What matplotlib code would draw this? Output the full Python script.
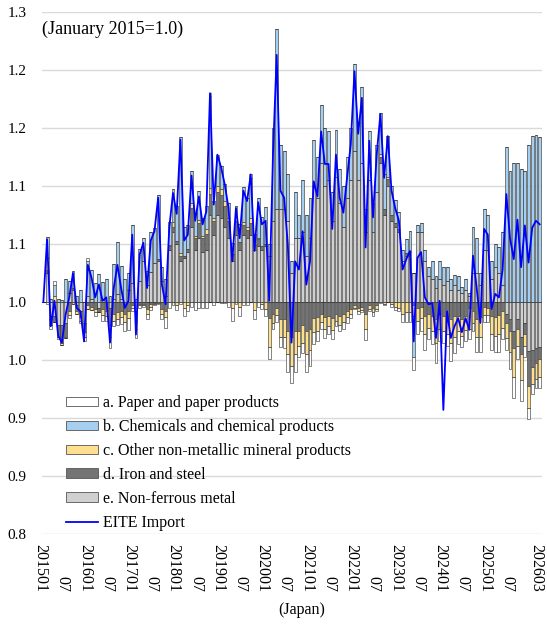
import matplotlib
matplotlib.use("Agg")
import matplotlib.pyplot as plt
import matplotlib.transforms as mtransforms
from matplotlib.patches import Patch
from matplotlib.lines import Line2D
import numpy as np

plt.rcParams['font.family'] = ['Liberation Serif', 'DejaVu Serif']

# ---- data (contributions in index points x 0.01) ----
eite = [1.000, 1.054, 0.979, 1.001, 0.971, 0.965, 0.989, 1.004, 1.025, 0.995, 0.992, 0.966,
        1.032, 1.021, 1.004, 1.015, 1.001, 1.004, 0.965, 1.012, 1.032, 1.012, 0.995, 1.001,
        1.058, 0.972, 1.041, 1.051, 1.012, 1.053, 1.061, 1.090, 1.015, 0.998, 1.064, 1.094,
        1.076, 1.140, 1.053, 1.058, 1.109, 1.070, 1.091, 1.067, 1.078, 1.180, 1.084, 1.127,
        1.116, 1.101, 1.081, 1.035, 1.081, 1.055, 1.096, 1.087, 1.110, 1.044, 1.086, 1.067,
        1.070, 1.001, 1.127, 1.213, 1.096, 1.090, 1.050, 0.965, 1.035, 1.028, 1.061, 1.015,
        1.035, 1.104, 1.091, 1.147, 1.119, 1.119, 1.063, 1.127, 1.090, 1.077, 1.107, 1.136,
        1.199, 1.145, 1.176, 1.047, 1.139, 1.073, 1.127, 1.162, 1.107, 1.143, 1.096, 1.081,
        1.070, 1.028, 1.037, 1.044, 0.966, 1.038, 1.043, 1.004, 0.998, 0.999, 0.969, 1.001,
        0.907, 0.992, 0.969, 0.979, 0.986, 0.974, 0.986, 0.976, 1.040, 1.012, 0.982, 1.063,
        1.058, 0.994, 1.007, 1.004, 1.028, 1.093, 1.055, 1.037, 1.071, 1.030, 1.066, 1.034,
        1.064, 1.070, 1.067]

e_nonferrous = [0, 2.5, -1.5, -1.2, -2.0, -2.0, -1.8, 0.8, 1.0, -0.3, -0.8, -1.8,
                0.5, 0.3, 0, -0.5, 0.2, 0, -0.5, 0.3, 0.7, 0.3, 0, 1.0,
                1.6, -0.8, 1.8, 3.5, 1.5, 2.6, 3.4, 3.5, 1.8, 0.5, 4.5, 6.0,
                5.0, 3.5, 3.8, 4.3, 6.5, 4.5, 5.5, 4.3, 4.5, 7.5, 5.8, 7.5,
                7.2, 6.5, 5.5, 3.5, 5.8, 4.5, 5.8, 5.5, 5.8, 4.5, 4.8, 4.5,
                4.8, 4.0, 7.0, 8.0, 8.0, 8.0, 7.0, 2.5, 5.5, 5.5, 6.0, 4.0,
                5.5, 10.0, 9.0, 12.0, 10.0, 10.5, 7.0, 10.8, 8.5, 6.5, 9.0, 10.5,
                13.0, 10.5, 12.0, 6.0, 10.5, 6.0, 9.5, 12.0, 7.5, 10.0, 7.0, 6.5,
                6.0, 3.5, 4.0, 4.3, 2.5, 6.0, 6.0, 3.5, 2.2, 2.0, 1.2, 2.0,
                1.5, 1.8, 1.0, 1.5, 1.0, 0.8, 1.0, 0.5, 2.5, 2.5, 1.5, 4.5,
                4.5, 2.0, 3.0, 2.5, 1.5, -1.0, -1.5, -2.5, -1.5, -3.0, -1.8, -4.2,
                -4.1, -4.0, -3.9]
d_iron_steel = [0, 0.3, -0.5, -0.5, -1.0, -1.5, -1.2, -0.8, 0.2, -0.5, -0.5, -0.8,
                -0.3, -0.4, -0.6, -0.4, -0.6, -0.8, -1.5, -1.0, -0.9, -0.8, -1.0, -0.8,
                -0.3, -1.0, -0.2, -0.2, -0.6, -0.2, -0.1, 0.2, -0.6, -0.8, 0.3, 0.5,
                0.3, 0.5, 0.2, 0.3, 1.6, 1.0, 1.3, 1.2, 1.4, 1.8, 1.2, 2.0,
                2.0, 1.8, 1.5, 0.6, 1.2, 0.7, 0.8, 0.7, 1.0, 0.4, 0.6, 0.3,
                0.2, -1.4, -1.0, -0.5, -1.5, -1.5, -2.5, -3.0, -2.5, -2.5, -2.0, -2.5,
                -2.3, -1.4, -1.3, -1.0, -1.3, -1.2, -1.4, -1.0, -1.2, -1.0, -0.8, -0.6,
                -0.3, -0.5, -0.4, -1.0, -0.3, -0.5, -0.3, 0.5, 0.5, 0.6, 0.5, 0.3,
                0.3, 0, 0.2, 0, -0.3, -0.5, -0.4, -1.2, -1.0, -1.2, -1.5, -1.0,
                -1.2, -1.3, -1.5, -1.2, -1.2, -1.5, -1.2, -0.5, -0.8, -1.5, -1.3, -0.4,
                -0.5, -1.2, -1.3, -1.1, -0.8, -0.8, -1.0, -1.5, -0.8, -1.5, -1.0, -3.0,
                -1.5, -1.3, -1.0]
c_nonmetallic = [0, 1.0, 0, 0.5, 0, -0.2, -0.1, -0.3, -0.2, -0.2, -0.3, -0.4,
                 -0.3, -0.3, -0.3, 0, -0.5, -0.4, -1.0, -0.6, -0.6, -0.5, -0.7, -0.6,
                 -0.2, -0.5, -0.1, -0.1, -0.4, -0.2, -0.1, -0.1, -0.4, -0.5, 0.1, 0.4,
                 -0.3, 0.2, -0.5, -0.3, 0.4, 0.2, 0.3, 0.2, 0.4, 0.5, 0.2, 0.5,
                 0.5, 0.4, 0.2, -0.5, 0.3, -0.4, 0.3, 0.3, 0.4, -0.7, 0.1, -0.2,
                 -0.6, -2.5, -0.8, -0.6, -1.5, -1.5, -2.0, -2.5, -2.0, -1.3, -1.5, -2.0,
                 -1.8, -1.2, -1.2, -0.7, -1.0, -0.9, -1.0, -0.6, -0.8, -0.7, -0.5, -0.4,
                 -0.2, -0.3, -0.3, -1.3, -0.3, -0.4, -0.3, 0.3, -0.2, 0.2, -0.2, -0.4,
                 -0.5, -1.0, -0.9, -0.9, -0.9, -1.1, -1.0, -1.6, -1.2, -1.3, -2.0, -1.3,
                 -1.3, -1.5, -2.0, -1.8, -1.3, -1.4, -1.2, -1.8, -1.0, -1.5, -1.7, -0.7,
                 -0.6, -1.6, -1.6, -1.7, -1.4, -1.3, -1.8, -2.5, -1.5, -2.2, -1.0, -1.9,
                 -1.5, -1.3, -1.6]
b_chemicals = [0, 1.8, 0.3, 1.0, 0.3, 0.2, 2.0, 1.0, 1.5, 0.5, 1.0, 0,
               3.0, 2.5, 1.6, 2.4, 1.5, 2.0, 0.5, 3.0, 4.5, 2.8, 2.0, 1.5,
               5.0, 0.3, 2.8, 2.0, 1.2, 3.4, 3.0, 5.5, 1.2, 1.5, 2.0, 2.8,
               3.0, 10.0, 2.5, 2.0, 2.8, 2.0, 2.5, 1.5, 2.0, 8.0, 1.5, 2.5,
               2.0, 1.5, 1.3, 1.0, 1.0, 1.5, 3.0, 2.5, 3.5, 1.0, 3.5, 2.5,
               3.2, 1.0, 8.0, 15.5, 5.5, 5.0, 4.0, 1.0, 4.0, 2.0, 4.5, 3.5,
               3.5, 4.0, 3.5, 5.0, 5.0, 4.2, 2.5, 4.0, 3.0, 3.5, 3.5, 4.5,
               7.5, 5.0, 6.5, 2.0, 4.2, 2.5, 4.0, 3.5, 3.0, 3.5, 2.5, 2.0,
               1.5, 1.0, 1.2, 1.8, -3.5, 0.6, 0.8, 1.0, 0.8, 1.5, 1.0, 1.5,
               1.5, 1.2, 1.0, 0.8, 1.2, 0.5, 1.0, 0.3, 4.0, 3.0, 1.0, 3.5,
               3.0, 1.5, 2.0, 2.2, 4.5, 13.4, 11.3, 12.0, 12.0, 11.5, 11.3, 13.5,
               14.3, 14.4, 14.2]
a_paper = [0, -0.2, -0.3, 0.3, -0.2, 0, 0, -0.3, 0, 0, -0.2, -0.4,
           0.3, 0, -0.3, 0, -0.5, -0.4, -1.0, -0.5, -0.5, -0.6, -0.8, -1.0,
           -0.3, -0.8, -0.2, -0.1, -0.5, -0.3, -0.1, -0.1, -0.5, -0.9, -0.5, -0.3,
           -0.4, -0.2, -0.7, -0.5, -0.4, -0.7, -0.5, -0.5, -0.5, 0.2, -0.3, 0.2,
           -0.1, -0.1, -0.4, -1.1, -0.2, -0.8, -0.3, -0.3, 0.3, -0.8, -0.4, -0.4,
           -0.6, -1.0, -0.5, -0.6, -0.9, -1.0, -1.5, -1.5, -1.5, -0.9, -0.9, -1.5,
           -1.4, -1.0, -0.9, -0.6, -0.8, -0.7, -0.8, -0.5, -0.5, -0.6, -0.5, -0.4,
           -0.1, -0.2, -0.2, -1.0, -0.2, -0.3, -0.2, -0.1, -0.1, 0, -0.2, -0.3,
           -0.3, -0.7, -0.8, -0.8, -1.2, -1.2, -1.1, -1.3, -1.0, -1.1, -1.8, -1.1,
           -1.0, -1.0, -1.6, -1.4, -1.1, -1.0, -1.0, -0.9, -0.7, -1.3, -1.3, -0.6,
           -0.6, -1.3, -1.4, -1.5, -1.0, -1.0, -1.5, -1.8, -1.1, -1.8, -0.9, -1.0,
           -0.8, -0.8, -0.9]

tick_pos = [0, 6, 12, 18, 24, 30, 36, 42, 48, 54, 60, 66, 72, 78, 84, 90, 96, 102,
            108, 114, 120, 126, 134]
tick_text = ['201501', '07', '201601', '07', '201701', '07', '201801', '07', '201901', '07',
             '202001', '07', '202101', '07', '202201', '07', '202301', '07', '202401', '07',
             '202501', '07', '202603']
y_ticks = [0.80, 0.85, 0.90, 0.95, 1.00, 1.05, 1.10, 1.15, 1.20, 1.25]
y_tick_text = ['0.8', '0.9', '0.9', '1.0', '1.0', '1.1', '1.1', '1.2', '1.2', '1.3']

series_names = ['a. Paper and paper products', 'b. Chemicals and chemical products',
                'c. Other non-metallic mineral products', 'd. Iron and steel',
                'e. Non-ferrous metal']
colors = {'a': '#FFFFFF', 'b': '#A6CEEE', 'c': '#FDDF8E', 'd': '#747474', 'e': '#D0D0D0'}

W, H = 547, 624
fig = plt.figure(figsize=(W / 100, H / 100), dpi=100)
ax = fig.add_axes([41.5 / W, 1 - 534 / H, 500 / W, 522 / H])

x = np.arange(len(eite))
stack = [('e', e_nonferrous), ('d', d_iron_steel), ('c', c_nonmetallic),
         ('b', b_chemicals), ('a', a_paper)]
pos_base = np.ones(len(x))
neg_base = np.ones(len(x))
for key, vals in stack:
    v = np.array(vals) / 100.0
    p = np.where(v > 0, v, 0)
    n = np.where(v < 0, v, 0)
    ax.bar(x, p, bottom=pos_base, width=0.78, color=colors[key], edgecolor='#2a2a2a',
           linewidth=0.4, zorder=2)
    ax.bar(x, n, bottom=neg_base, width=0.78, color=colors[key], edgecolor='#2a2a2a',
           linewidth=0.4, zorder=2)
    pos_base = pos_base + p
    neg_base = neg_base + n

ax.plot(x, eite, color='#0000FF', linewidth=1.3, zorder=3)

ax.set_xlim(-0.5, len(x) - 0.5)
ax.set_ylim(0.8, 1.25)
ax.set_yticks(y_ticks)
ax.set_yticklabels(y_tick_text)
ax.yaxis.grid(True, color='#D9D9D9', linewidth=1.0, zorder=0)
ax.set_axisbelow(True)
for s in ax.spines.values():
    s.set_visible(False)
ax.tick_params(axis='y', length=0, pad=11, labelsize=11)
ax.set_xticks([])

trans = mtransforms.blended_transform_factory(ax.transData, fig.transFigure)
for p_, t_ in zip(tick_pos, tick_text):
    ax.text(p_ - 0.8, 1 - 592 / H, t_, transform=trans, rotation=-90, rotation_mode='anchor',
            ha='right', va='center', fontsize=11.5)

fig.text(302 / W, 1 - 610 / H, '(Japan)', ha='center', va='center', fontsize=11.5)
fig.text(42 / W, 1 - 29 / H, '(January 2015=1.0)', ha='left', va='center', fontsize=13)

handles = [Patch(facecolor=colors[k], edgecolor='#555555', linewidth=0.6) for k in 'abcde']
handles.append(Line2D([0], [0], color='#0000FF', linewidth=1.3))
labels = series_names + ['EITE Import']
fig.legend(handles, labels, loc='upper left', bbox_to_anchor=(66 / W, 1 - 395 / H),
           frameon=False, fontsize=11.5, handlelength=2.0, handleheight=0.55,
           handletextpad=0.3, labelspacing=0.5, borderpad=0, borderaxespad=0)

fig.savefig('out.png', dpi=100)
